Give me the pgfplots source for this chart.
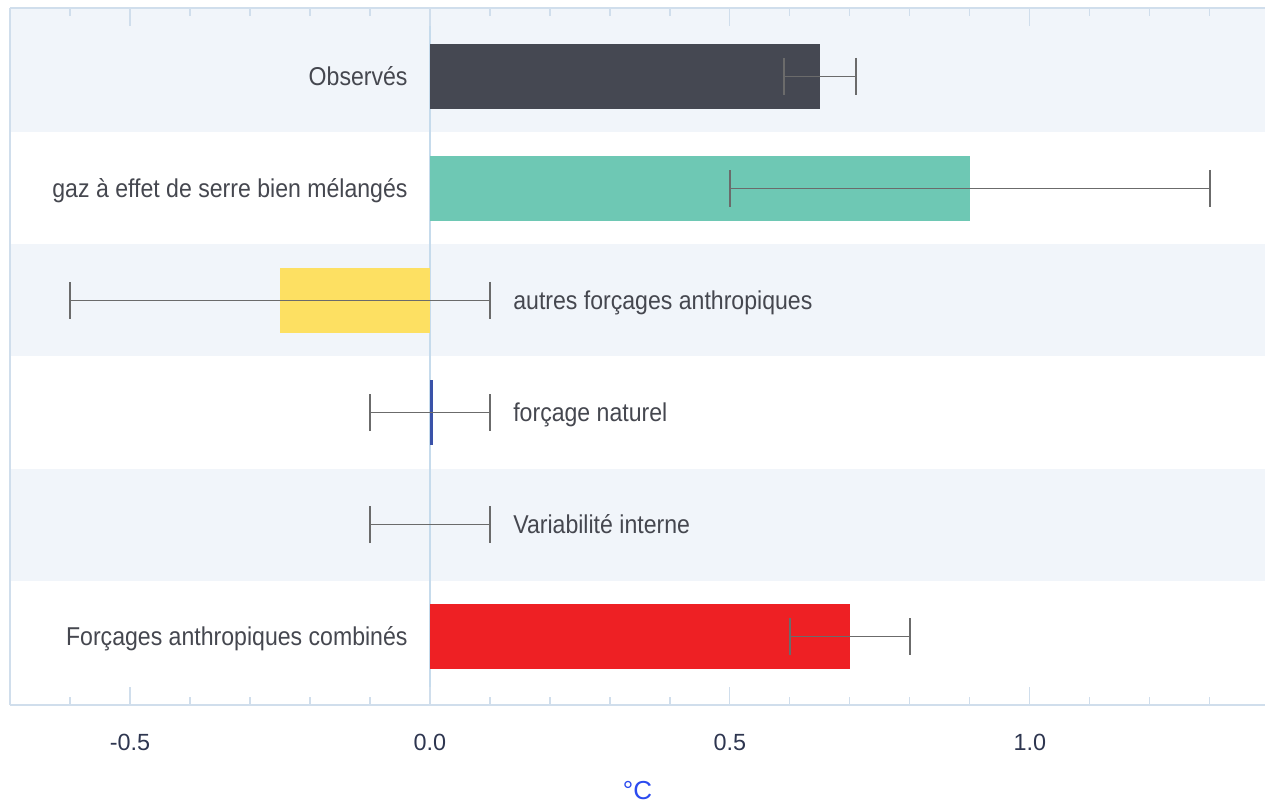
\documentclass[border=0pt]{standalone}
\usepackage{fontspec}
\setmainfont{Liberation Sans}
\newfontfamily\condfont{Liberation Sans}[FakeStretch=0.895]
\usepackage{pgfplots}
\pgfplotsset{compat=1.18}

\definecolor{bandc}{HTML}{F1F5FA}
\definecolor{axisc}{HTML}{D0DEEC}
\definecolor{zeroc}{HTML}{C6DBEC}
\definecolor{lblc}{HTML}{45474F}
\definecolor{tickc}{HTML}{2E3650}
\definecolor{xlabc}{HTML}{2B4BEF}
\definecolor{errc}{HTML}{6B6B6B}
\definecolor{obsc}{HTML}{454852}
\definecolor{gesc}{HTML}{6EC8B4}
\definecolor{autc}{HTML}{FDE062}
\definecolor{natc}{HTML}{3A52A8}
\definecolor{comc}{HTML}{EE2024}

\tikzset{lbl/.style={font=\condfont\fontsize{12.9}{15}\selectfont, text=lblc, inner sep=0pt, yshift=-4.6pt}}

\begin{document}
\begin{tikzpicture}
\begin{axis}[
  name=ax, scale only axis, width=627.5pt, height=348.5pt,
  set layers,
  xmin=-0.7, xmax=1.392, ymin=-0.61, ymax=5.61, y dir=reverse,
  axis line style={draw=none},
  ytick=\empty,
  xtick={-0.5,0,0.5,1}, xticklabels={-0.5,0.0,0.5,1.0},
  minor xtick={-0.6,-0.4,-0.3,-0.2,-0.1,0.1,0.2,0.3,0.4,0.6,0.7,0.8,0.9,1.1,1.2,1.3},
  tick align=inside,
  major tick length=8.8pt, minor tick length=4.2pt,
  every tick/.style={draw=axisc, line width=0.6pt},
  minor tick style={draw=axisc, line width=0.6pt},
  major tick style={draw=axisc, line width=0.6pt},
  xticklabel style={font=\fontsize{11.7}{14}\selectfont, text=tickc, anchor=base, yshift=-22.75pt},
  xlabel={°C},
  xlabel style={font=\fontsize{13}{15}\selectfont, text=xlabc, at={(axis description cs:0.5,0)}, anchor=base, yshift=-47pt},
  clip=false,
]
% bandes de fond et axe zero
\begin{pgfonlayer}{axis background}
\fill[bandc] (axis cs:-0.7,-0.61) rectangle (axis cs:1.392,0.5);
\fill[bandc] (axis cs:-0.7,1.5) rectangle (axis cs:1.392,2.5);
\fill[bandc] (axis cs:-0.7,3.5) rectangle (axis cs:1.392,4.5);
\draw[zeroc, line width=0.6pt] (axis cs:0,-0.61) -- (axis cs:0,5.61);
\end{pgfonlayer}

\addplot[xbar, bar width=0.58, bar shift=0pt, fill=obsc, draw=none] coordinates {(0.65,0)};
\addplot[xbar, bar width=0.58, bar shift=0pt, fill=gesc, draw=none] coordinates {(0.9,1)};
\addplot[xbar, bar width=0.58, bar shift=0pt, fill=autc, draw=none] coordinates {(-0.25,2)};
\addplot[xbar, bar width=0.58, bar shift=0pt, fill=natc, draw=none] coordinates {(0.005,3)};
\addplot[xbar, bar width=0.58, bar shift=0pt, fill=comc, draw=none] coordinates {(0.7,5)};

\addplot[draw=none, mark=none,
  error bars/.cd, x dir=both, x explicit,
  error bar style={draw=errc, line width=0.75pt},
  error mark options={draw=errc, line width=0.75pt, mark size=9.25pt, rotate=90}]
  coordinates {(0.65,0) +- (0.06,0) (0.9,1) +- (0.4,0) (-0.25,2) +- (0.35,0)
               (0,3) +- (0.1,0) (0,4) +- (0.1,0) (0.7,5) +- (0.1,0)};

% cadre
\draw[axisc, line width=0.8pt] (axis cs:-0.7,-0.61) -- (axis cs:1.392,-0.61);
\draw[axisc, line width=0.8pt] (axis cs:-0.7,5.61) -- (axis cs:1.392,5.61);
\draw[axisc, line width=0.8pt] (axis cs:-0.7,-0.61) -- (axis cs:-0.7,5.61);

% etiquettes
\node[lbl, anchor=base east, xshift=-11pt] at (axis cs:0,0) {Observés};
\node[lbl, anchor=base east, xshift=-11pt] at (axis cs:0,1) {gaz à effet de serre bien mélangés};
\node[lbl, anchor=base west, xshift=11.5pt] at (axis cs:0.1,2) {autres forçages anthropiques};
\node[lbl, anchor=base west, xshift=11.5pt] at (axis cs:0.1,3) {forçage naturel};
\node[lbl, anchor=base west, xshift=11.5pt] at (axis cs:0.1,4) {Variabilité interne};
\node[lbl, anchor=base east, xshift=-11pt] at (axis cs:0,5) {Forçages anthropiques combinés};
\end{axis}
\pgfresetboundingbox
\path ([shift={(-5pt,-49.5pt)}]ax.south west) rectangle ([shift={(0pt,4pt)}]ax.north east);
\end{tikzpicture}
\end{document}
